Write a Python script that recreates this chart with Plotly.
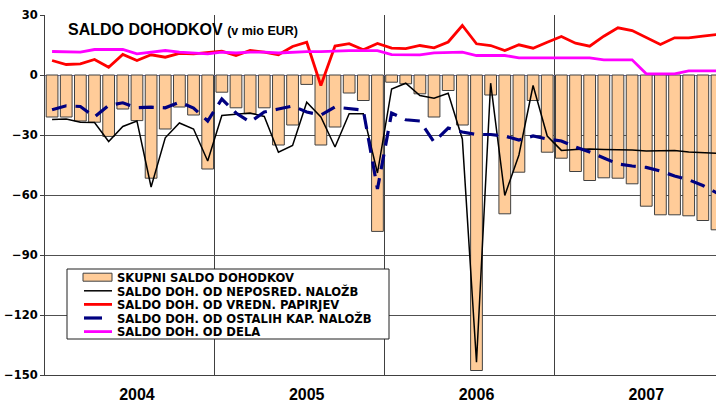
import plotly.graph_objects as go

years = ["2004", "2005", "2006", "2007"]
months = [f"{m:02d}/{y}" for y in years for m in range(1, 13)]

skupni = [-21, -21, -23, -23.6, -30.7, -17, -22.8, -51.6, -27, -16, -20, -47,
          -8.6, -16.4, -19.4, -16.4, -35, -25, -4.7, -35, -26, -9, -12.75, -78.2,
          -3.6, -4.4, -9.4, -21, -7.75, -25, -147.75, -10, -69.4, -48.6, -12.75, -38.6,
          -41.6, -48.25, -52.75, -51.4, -51.6, -54.4, -65.6, -69.9, -69.9, -70.4, -72.75, -77.4]

neposred = [-22.3, -22, -23.6, -23.75, -33.25, -25.75, -23, -56, -31.4, -24, -27, -43,
            -20.25, -19.75, -19, -20.75, -38.6, -35.25, -13.6, -21, -36, -19.4, -19.4, -49,
            -7, -4.1, -10.25, -11.6, -9.1, -32, -143.6, -4.1, -60.25, -40, -5.25, -30.5,
            -37.7, -37.3, -37.0, -37.2, -37.3, -37.5, -38, -38, -37.7, -38.5, -39, -39.2]

vrednostni = [7.25, 5.25, 5.6, 7.75, 3.9, 10.25, 7.25, 10.1, 8.9, 10.8, 10.6, 11.1,
              11.9, 9.75, 12.25, 11.4, 10.1, 14.25, 16.4, -5.25, 14.5, 15.7, 12.6, 15.8,
              13.4, 13.2, 14.75, 13.6, 16.5, 24.75, 15.6, 14.75, 12.25, 15.1, 13.4, 16.4,
              19.25, 15.9, 14.4, 19.4, 23.6, 22.25, 18.9, 15.25, 18.6, 18.6, 19.4, 20.25]

ostali = [-17.4, -15.4, -15.75, -21, -15.2, -13.9, -16.4, -16.1, -16.4, -13.6, -16.5, -23,
          -12, -19, -23.5, -18.5, -17, -15.5, -18.5, -20, -16, -16.8, -17.6, -57,
          -19, -22.4, -23, -33.5, -26.5, -28.5, -29.75, -29.75, -30.5, -32.5, -30.5, -32,
          -33, -36, -38.5, -41.5, -44.5, -45.5, -46.2, -48, -50.5, -52.4, -55.25, -59]

dela = [11.75, 11.4, 11.4, 12.75, 12.75, 12.75, 10.6, 11.4, 12.25, 11.4, 11.1, 10.6,
        11.4, 11.0, 11.4, 11.4, 11.0, 11.4, 11.7, 11.7, 12.0, 12.2, 12.2, 12.2,
        10.2, 10.1, 10.1, 11.1, 11.4, 11.4, 9.75, 9.75, 9.75, 8.6, 8.6, 8.6,
        8.6, 8.6, 8.6, 7.6, 7.6, 7.6, 0.6, 0.6, 0.6, 2.1, 2.1, 2.1]

series_names = ["SKUPNI SALDO DOHODKOV", "SALDO DOH. OD NEPOSRED. NALOŽB",
                "SALDO DOH. OD VREDN. PAPIRJEV", "SALDO DOH. OD OSTALIH KAP. NALOŽB",
                "SALDO DOH. OD DELA"]
y_ticks = [-150, -120, -90, -60, -30, 0, 30]

idx = list(range(len(months)))
FONT = "Arial, Liberation Sans, sans-serif"
FONT_W = "DejaVu Sans, Verdana, sans-serif"
W, H = 716, 405
ML, MR, MT, MB = 45, 0, 15, 30

BAR_FILL, BAR_LINE = "#FFCC99", "#404040"
styles = [
    None,
    dict(color="black", width=1.5),
    dict(color="#FF0000", width=2.8),
    dict(color="#000080", width=3.2, dash="15px,9px"),
    dict(color="#FF00FF", width=2.8),
]

fig = go.Figure()
fig.add_trace(go.Bar(x=idx, y=skupni, name=series_names[0], customdata=months,
                     hovertemplate="%{customdata}: %{y}<extra></extra>", showlegend=False,
                     marker=dict(color=BAR_FILL, line=dict(color=BAR_LINE, width=1))))
for name, vals, st in zip(series_names[1:], [neposred, vrednostni, ostali, dela], styles[1:]):
    fig.add_trace(go.Scatter(x=idx, y=vals, name=name, mode="lines", customdata=months,
                             hovertemplate="%{customdata}: %{y}<extra>" + name + "</extra>",
                             showlegend=False, line=st))


def px_x(p):
    return (p - ML) / (W - ML - MR)


def px_y(p):
    return (H - MB - p) / (H - MT - MB)


# legend drawn as a box with samples and real text
shapes = [dict(type="rect", xref="paper", yref="paper", layer="above",
               x0=px_x(67), x1=px_x(389), y0=px_y(339), y1=px_y(269),
               line=dict(color="#202020", width=1), fillcolor="white")]
annotations = []
row_y = [277.2, 290.8, 304.4, 318.0, 331.6]
for k, (name, yy) in enumerate(zip(series_names, row_y)):
    if k == 0:
        shapes.append(dict(type="rect", xref="paper", yref="paper", layer="above",
                           x0=px_x(83), x1=px_x(112), y0=px_y(yy + 4), y1=px_y(yy - 4),
                           line=dict(color=BAR_LINE, width=1), fillcolor=BAR_FILL))
    else:
        st = styles[k]
        x1 = 102 if k == 3 else 112
        shapes.append(dict(type="line", xref="paper", yref="paper", layer="above",
                           x0=px_x(84), x1=px_x(x1), y0=px_y(yy), y1=px_y(yy),
                           line=dict(color=st["color"], width=st["width"])))
    annotations.append(dict(xref="paper", yref="paper", x=px_x(115), y=px_y(yy + 0.5),
                            xanchor="left", yanchor="middle", showarrow=False,
                            text=f"<b>{name}</b>",
                            font=dict(family=FONT_W, size=11.6, color="black")))

annotations.append(dict(xref="paper", yref="paper", x=px_x(66), y=px_y(30),
                        xanchor="left", yanchor="middle", showarrow=False,
                        text="<b>SALDO DOHODKOV</b> <b><span style='font-size:12.5px'>(v mio EUR)</span></b>",
                        font=dict(family=FONT, size=16, color="black")))

fig.update_layout(
    width=W, height=H,
    margin=dict(l=ML, r=MR, t=MT, b=MB, autoexpand=False),
    plot_bgcolor="white", paper_bgcolor="white",
    bargap=0.17,
    showlegend=False,
    font=dict(family=FONT, color="black"),
    xaxis=dict(range=[-0.5, 46.93], tickmode="array", automargin=False,
               tickvals=[6, 18, 30, 42], ticktext=years, ticks="",
               tickfont=dict(family=FONT, size=16, color="black", weight="bold"),
               ticklabelstandoff=5,
               showgrid=False, zeroline=False, showline=True, linecolor="#404040",
               minor=dict(tickmode="array", tickvals=[11.5, 23.5, 35.5], showgrid=True,
                          gridcolor="#404040", gridwidth=1, ticks="")),
    yaxis=dict(range=[-150, 30], tickmode="array", tickvals=y_ticks, automargin=False,
               tickfont=dict(family=FONT_W, size=11.5, color="black", weight="bold"),
               showgrid=True, gridcolor="#505050", gridwidth=1,
               zeroline=True, zerolinecolor="#6b6ba0", zerolinewidth=1,
               showline=True, linecolor="#404040", ticks="outside", ticklen=4,
               tickcolor="#404040"),
    shapes=shapes,
    annotations=annotations,
)

fig.write_html("out.html", config={"displayModeBar": False},
               post_script="document.body.style.margin='0';")
